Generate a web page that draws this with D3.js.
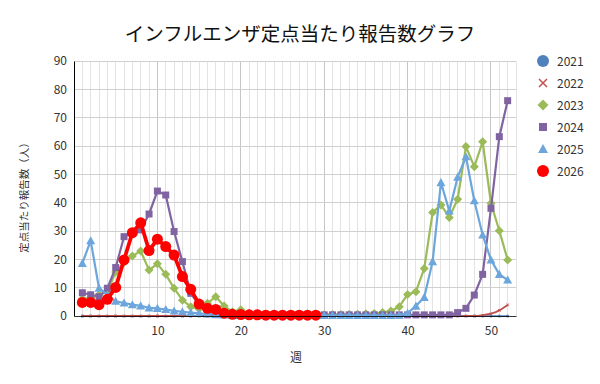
<!DOCTYPE html>
<html><head><meta charset="utf-8">
<script src="https://cdn.jsdelivr.net/npm/d3@7"></script>
<style>
body{margin:0;background:#fff;}
text{font-family:"Noto Sans CJK JP","Noto Sans",sans-serif;}
</style></head>
<body>
<svg id="chart" width="600" height="384"></svg>
<script>
const title = "インフルエンザ定点当たり報告数グラフ";
const yTitle = "定点当たり報告数（人）";
const xTitle = "週";
const seriesNames = ["2021","2022","2023","2024","2025","2026"];
const xTickLabels = [10,20,30,40,50];
const yTickLabels = [0,10,20,30,40,50,60,70,80,90];

const v2021 = [0,0,0,0,0,0,0,0,0,0,0,0,0,0,0,0,0,0,0,0,0,0,0,0,0,0,0,0,0,0,0,0,0,0,0,0,0,0,0,0,0,0,0,0,0,0,0,0,0,0,0,0];
const v2022 = [0,0,0,0,0,0,0,0,0,0,0,0,0,0,0,0,0,0,0,0,0,0,0,0,0,0,0,0,0,0,0,0,0,0,0,0,0,0,0,0,0,0,0,0,0,0,0,0,0.3,0.8,2.0,3.9];
const v2023 = [6.0,6.5,7.5,8.5,15.5,19.0,21.2,22.9,16.2,18.4,14.7,9.8,5.6,3.3,2.5,4.5,6.8,3.5,1.5,2.2,1.0,0.8,0.6,0.5,0.5,0.4,0.4,0.4,0.4,0.4,0.5,0.5,0.6,0.6,0.8,0.9,1.2,1.8,3.3,7.6,8.6,16.8,36.5,39.2,34.8,41.2,59.8,52.7,61.5,39.8,30.1,19.8];
const v2024 = [8.2,7.5,6.8,9.8,17.1,28.0,29.5,30.4,36.0,44.1,42.7,29.8,19.2,8.0,3.8,1.8,1.0,0.6,0.4,0.3,0.3,0.3,0.3,0.3,0.3,0.3,0.3,0.3,0.3,0.4,0.4,0.4,0.4,0.4,0.4,0.4,0.4,0.4,0.4,0.4,0.4,0.4,0.4,0.4,0.4,1.2,2.7,7.4,14.7,38.0,63.3,76.0];
const v2025 = [18.6,26.6,9.8,7.5,5.2,4.6,4.0,3.6,2.9,2.7,2.3,1.8,1.5,1.2,0.9,0.7,0.5,0.4,0.3,0.3,0.2,0.2,0.2,0.2,0.2,0.2,0.2,0.2,0.2,0.2,0.2,0.2,0.2,0.2,0.2,0.2,0.2,0.2,0.3,1.0,3.5,6.6,19.2,47.1,37.1,49.0,56.2,40.7,28.6,19.8,14.7,12.7];
const v2026 = [4.8,4.8,4.0,5.9,10.1,19.8,29.4,32.9,23.1,27.1,24.5,21.5,13.9,9.4,4.2,2.7,2.3,1.0,0.6,0.5,0.4,0.4,0.3,0.3,0.3,0.3,0.3,0.3,0.3];

const seriesValues = [v2021,v2022,v2023,v2024,v2025,v2026];
const colors = ["#4F81BD","#C0504D","#9BBB59","#8064A2","#6CA6DC","#FF0000"];
const shapes = ["circle","cross","diamond","square","triangle","circle"];
const lineWidths = [1.5,1.8,2.2,2.2,2.2,3.8];
const markerSizes = [1.5,1.2,4.5,3.5,4.5,5.5];
const legendMarkerSizes = [6,4,5.5,4,5,6];

const svg = d3.select("#chart");
const m = {left:74, right:516, top:61, bottom:316};
const x = d3.scaleLinear().domain([0,53]).range([m.left,m.right]);
const y = d3.scaleLinear().domain([0,90]).range([m.bottom,m.top]);

// gridlines
const grid = svg.append("g");
grid.selectAll("line.minor").data(d3.range(1,54).filter(d=>d%10!==0)).enter().append("line")
  .attr("x1",d=>x(d)).attr("x2",d=>x(d)).attr("y1",m.top).attr("y2",m.bottom)
  .attr("stroke","#e3e3e3").attr("stroke-width",1).attr("shape-rendering","crispEdges");
grid.selectAll("line.major").data(d3.range(10,54,10)).enter().append("line")
  .attr("x1",d=>x(d)).attr("x2",d=>x(d)).attr("y1",m.top).attr("y2",m.bottom)
  .attr("stroke","#c6c6c6").attr("stroke-width",1).attr("shape-rendering","crispEdges");
grid.selectAll("line.h").data(yTickLabels.filter(d=>d>0)).enter().append("line")
  .attr("x1",m.left).attr("x2",m.right).attr("y1",d=>y(d)).attr("y2",d=>y(d))
  .attr("stroke","#d0d0d0").attr("stroke-width",1).attr("shape-rendering","crispEdges");

function symbolPath(shape, s){
  if(shape==="circle") return d3.symbol(d3.symbolCircle, Math.PI*s*s)();
  if(shape==="square") return d3.symbol(d3.symbolSquare, (2*s)*(2*s))();
  if(shape==="diamond") return `M0,${-s}L${s},0L0,${s}L${-s},0Z`;
  if(shape==="triangle") return `M0,${-s}L${s},${s*0.8}L${-s},${s*0.8}Z`;
  if(shape==="cross") return `M${-s},${-s}L${s},${s}M${s},${-s}L${-s},${s}`;
}

const line = d3.line().x((d,i)=>x(i+1)).y(d=>y(d));
const plot = svg.append("g");
seriesValues.forEach((vals,k)=>{
  const g = plot.append("g");
  g.append("path").datum(vals)
    .attr("d", k===1 ? line.curve(d3.curveMonotoneX)(vals) : line.curve(d3.curveLinear)(vals))
    .attr("fill","none").attr("stroke",colors[k]).attr("stroke-width",lineWidths[k])
    .attr("stroke-linejoin","round");
  g.selectAll("path.mk").data(vals).enter().append("path")
    .attr("transform",(d,i)=>`translate(${x(i+1)},${y(d)})`)
    .attr("d",symbolPath(shapes[k],markerSizes[k]))
    .attr("fill",shapes[k]==="cross"?"none":colors[k])
    .attr("stroke",shapes[k]==="cross"?colors[k]:"none")
    .attr("stroke-width",1);
});

// axes
const yAxis = svg.append("g").attr("transform",`translate(${m.left},0)`)
  .call(d3.axisLeft(y).tickValues(yTickLabels).tickSize(0).tickPadding(7));
yAxis.select(".domain").attr("stroke","#000");
yAxis.selectAll("text").attr("font-size",12).attr("fill","#333");
const xAxis = svg.append("g").attr("transform",`translate(0,${m.bottom})`)
  .call(d3.axisBottom(x).tickValues(xTickLabels).tickSize(0).tickPadding(10));
xAxis.select(".domain").attr("stroke","#000").attr("stroke-opacity",0.8);
xAxis.selectAll("text").attr("font-size",12).attr("fill","#333");

// title
svg.append("text").attr("x",300).attr("y",41).attr("text-anchor","middle")
  .attr("font-size",19.5).attr("fill","#111").text(title);
svg.append("text").attr("transform","translate(28,195) rotate(-90)").attr("text-anchor","middle")
  .attr("font-size",10.5).attr("fill","#333").text(yTitle);
svg.append("text").attr("x",296).attr("y",362).attr("text-anchor","middle")
  .attr("font-size",12).attr("fill","#333").text(xTitle);

// legend
const lg = svg.append("g");
seriesNames.forEach((n,k)=>{
  const ly = 61 + 22*k;
  lg.append("path").attr("transform",`translate(543,${ly})`)
    .attr("d",symbolPath(shapes[k],legendMarkerSizes[k]))
    .attr("fill",shapes[k]==="cross"?"none":colors[k])
    .attr("stroke",shapes[k]==="cross"?colors[k]:"none").attr("stroke-width",1.5);
  lg.append("text").attr("x",557).attr("y",ly+4.5).attr("font-size",12).attr("fill","#333").text(n);
});
</script>
</body></html>
